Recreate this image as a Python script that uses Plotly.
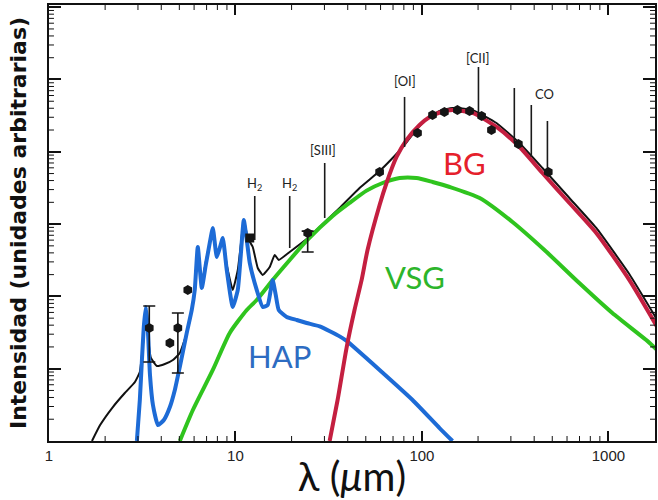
import math
import plotly.graph_objects as go

# ---------------- data ----------------
# wavelengths in micrometres, intensities in arbitrary units

hap_lambda = [2.96, 3.07, 3.15, 3.23, 3.31, 3.39, 3.48, 3.61, 3.84, 4.13, 4.45, 4.73,
              5.03, 5.48, 5.83, 6.05, 6.28, 6.60, 6.93, 7.28, 7.56, 7.94, 8.24, 8.55,
              8.98, 9.67, 10.29, 10.68, 11.08, 11.50, 11.93, 13.00, 14.01, 14.89, 15.46,
              15.84, 16.44, 17.06, 18.83, 21.30, 24.09, 28.29, 36.20, 39.46, 59.29,
              89.06, 124.3, 145.9]
hap_I = [1.0, 3.69, 13.2, 40.2, 71.3, 34.3, 8.18, 3.15, 1.66, 1.95, 2.95, 5.08,
         10.6, 31.2, 64.9, 123, 482, 131, 272, 548, 883, 351, 467, 642,
         232, 71.3, 123, 374, 1140, 603, 290, 123, 71.3, 76.0, 123,
         169, 105, 64.9, 51.9, 47.2, 42.9, 38.5, 28.0, 24.2, 9.6,
         3.69, 1.51, 1.0]

vsg_lambda = [5.03, 5.91, 7.56, 9.32, 11.50, 13.00, 15.84, 19.54, 24.09, 33.2, 40.9,
              50.5, 61.5, 75.9, 93.5, 114, 141, 204, 306, 454, 698, 1050, 1596, 1828]
vsg_I = [1.0, 2.68, 9.6, 31.2, 64.9, 89.2, 169, 319, 590, 1294, 1959,
         2900, 3700, 4343, 4343, 3822, 3260, 2296, 1069, 438, 153, 58.9, 24.9, 18.1]

bg_lambda = [32.0, 35.3, 39.5, 43.5, 47.5, 51.1, 59.3, 64.6, 73.1, 82.7, 97.1, 110,
             127, 146, 187, 251, 334, 443, 618, 861, 1294, 1828]
bg_I = [1.0, 3.69, 19.95, 64.9, 169, 438, 1837, 3700, 8475, 14560, 23490, 30300,
        35500, 37850, 34400, 22030, 11650, 5090, 1959, 753, 169, 37.7]

total_lambda = [1.70, 1.88, 2.20, 2.55, 2.89, 3.07, 3.19, 3.31, 3.39, 3.52, 3.79, 4.18,
                4.62, 5.03, 5.48, 5.83, 6.05, 6.28, 6.60, 6.93, 7.28, 7.56, 7.94, 8.24,
                8.55, 8.98, 9.67, 10.29, 10.68, 11.08, 11.64, 12.38, 13.17, 14.01, 15.27,
                16.24, 17.06, 19.54, 24.09, 29.36, 36.20, 46.3, 59.29, 71.3, 80.7, 91.3,
                103.3, 124.3, 145.9, 186.6, 251, 333, 443, 618, 861, 1294, 1828]
total_I = [1.0, 1.66, 2.95, 4.61, 6.55, 9.0, 21.3, 71.3, 29.2, 14.1, 10.9, 11.6,
           13.2, 16.5, 31.2, 64.9, 123, 482, 144, 299, 548, 883, 374, 482,
           642, 272, 123, 232, 514, 1140, 642, 482, 247, 198, 255,
           374, 319, 411, 620, 1000, 1670, 3157, 5420, 8750, 12420, 18790,
           26670, 36650, 40360, 37850, 25010, 13240, 5970, 2296, 883, 204, 47.2]

obs_lambda = [4.45, 5.55, 59.3, 94.7, 114, 132, 155, 180, 209, 236, 329, 476]
obs_I = [22.7, 123, 5255, 18200, 32280, 35500, 37850, 36650, 31260, 20030, 12820, 5255]
square_lambda = [11.93]
square_I = [642]

err_lambda = [3.45, 4.91, 24.4]
err_I = [36.6, 36.6, 753]
err_hi = [73.6, 58.9, 800]
err_lo = [12.4, 8.72, 411]

line_lambda = [12.69, 19.54, 30.1, 80.7, 201, 313, 386, 471]
line_top = [2448, 2448, 7000, 57300, 148900, 76300, 44400, 26670]
line_bottom = [603, 467, 1214, 11650, 34400, 13240, 8475, 5255]
label_lambda = [12.6, 19.4, 29.4, 80.7, 199, 454]
label_I = [3590, 3590, 10590, 95300, 198300, 63000]
label_text = ["H<sub>2</sub>", "H<sub>2</sub>", "[SIII]", "[OI]", "[CII]", "CO"]

comp_names = ["HAP", "VSG", "BG"]
comp_lambda = [17.3, 91.3, 169]
comp_I = [15.0, 185, 7000]

x_major = [1, 10, 100, 1000]
x_major_text = ["1", "10", "100", "1000"]
x_minor = [m * d for d in (1, 10, 100, 1000) for m in range(2, 10)]
y_major = [1, 10, 100, 1e3, 1e4, 1e5, 1e6]
y_minor = [m * d for d in (1, 10, 100, 1e3, 1e4, 1e5) for m in range(2, 10)]

# ---------------- styles ----------------
BLUE = "#1d6bd6"
GREEN = "#2fc41e"
RED = "#c41f40"
TXT_COLORS = ["#2d6cc2", "#2db52b", "#e5202b"]
INK = "#111111"

XR = [0, 3.25]
YR = [0, 6.03]
W, H = 658, 500
M = dict(l=49, r=1, t=5, b=59)
PLOT_W = W - M["l"] - M["r"]
PLOT_H = H - M["t"] - M["b"]
MINOR_LEN = 5

fig = go.Figure()

fig.add_trace(go.Scatter(x=total_lambda, y=total_I, mode="lines",
                         line=dict(color=INK, width=2, shape="spline", smoothing=0.4),
                         hoverinfo="skip"))
fig.add_trace(go.Scatter(x=vsg_lambda, y=vsg_I, mode="lines",
                         line=dict(color=GREEN, width=4, shape="spline", smoothing=0.6),
                         hoverinfo="skip"))
fig.add_trace(go.Scatter(x=hap_lambda, y=hap_I, mode="lines",
                         line=dict(color=BLUE, width=4, shape="spline", smoothing=0.45),
                         hoverinfo="skip"))
fig.add_trace(go.Scatter(x=bg_lambda, y=bg_I, mode="lines",
                         line=dict(color=RED, width=4, shape="spline", smoothing=0.6),
                         hoverinfo="skip"))

# spectral line markers
lx, ly = [], []
for lam, top, bot in zip(line_lambda, line_top, line_bottom):
    lx += [lam, lam, None]
    ly += [bot, top, None]
fig.add_trace(go.Scatter(x=lx, y=ly, mode="lines",
                         line=dict(color="#1a1a1a", width=1.6), hoverinfo="skip"))

# observations
fig.add_trace(go.Scatter(x=obs_lambda, y=obs_I, mode="markers",
                         marker=dict(symbol="hexagon", size=10, color="#151515"),
                         hoverinfo="skip"))
fig.add_trace(go.Scatter(x=square_lambda, y=square_I, mode="markers",
                         marker=dict(symbol="square", size=9, color="#151515"),
                         hoverinfo="skip"))
fig.add_trace(go.Scatter(
    x=err_lambda, y=err_I, mode="markers",
    marker=dict(symbol="hexagon", size=10, color="#151515"),
    error_y=dict(type="data", symmetric=False,
                 array=[h - v for h, v in zip(err_hi, err_I)],
                 arrayminus=[v - l for l, v in zip(err_lo, err_I)],
                 color="#151515", thickness=1.6, width=6),
    hoverinfo="skip"))

annotations = []
for t, lam, inten in zip(label_text, label_lambda, label_I):
    annotations.append(dict(x=math.log10(lam), y=math.log10(inten), xref="x", yref="y",
                            text=t, showarrow=False,
                            font=dict(family="Lato, Open Sans, sans-serif", size=13,
                                      color="#222222")))
for t, lam, inten, c in zip(comp_names, comp_lambda, comp_I, TXT_COLORS):
    annotations.append(dict(x=math.log10(lam), y=math.log10(inten), xref="x", yref="y",
                            text=t, showarrow=False,
                            font=dict(family="Lato, Open Sans, sans-serif", size=31, color=c)))

# minor log ticks (inside, on all four sides), placed at the minor tick values
shapes = []
fx = MINOR_LEN / PLOT_H
fy = MINOR_LEN / PLOT_W
tick_line = dict(color=INK, width=1)
for v in x_minor:
    if 10 ** XR[0] < v < 10 ** XR[1]:
        shapes.append(dict(type="line", xref="x", yref="paper", x0=v, x1=v,
                           y0=0, y1=fx, line=tick_line, layer="above"))
        shapes.append(dict(type="line", xref="x", yref="paper", x0=v, x1=v,
                           y0=1, y1=1 - fx, line=tick_line, layer="above"))
for v in y_minor:
    if 10 ** YR[0] < v < 10 ** YR[1]:
        shapes.append(dict(type="line", xref="paper", yref="y", x0=0, x1=fy,
                           y0=v, y1=v, line=tick_line, layer="above"))
        shapes.append(dict(type="line", xref="paper", yref="y", x0=1, x1=1 - fy,
                           y0=v, y1=v, line=tick_line, layer="above"))

fig.update_layout(
    width=W, height=H,
    margin=M,
    paper_bgcolor="white", plot_bgcolor="white",
    showlegend=False,
    annotations=annotations,
    shapes=shapes,
    xaxis=dict(type="log", range=XR, tickmode="array", tickvals=x_major,
               ticktext=x_major_text, showline=True, linecolor=INK, linewidth=2,
               mirror="allticks", ticks="inside", ticklen=10, tickwidth=1.5, tickcolor=INK,
               showgrid=False, zeroline=False,
               tickfont=dict(family="Liberation Sans, Arial, sans-serif", size=15,
                             color="#222222"),
               title=dict(text="λ (<i>μ</i>m)", standoff=0,
                          font=dict(family="Lato, sans-serif", size=40, color=INK))),
    yaxis=dict(type="log", range=YR, tickmode="array", tickvals=y_major,
               showticklabels=False, showline=True, linecolor=INK, linewidth=2,
               mirror="allticks", ticks="inside", ticklen=12, tickwidth=1.5, tickcolor=INK,
               showgrid=False, zeroline=False,
               title=dict(text="<b>Intensidad (unidades arbitrarias)</b>", standoff=14,
                          font=dict(family="DejaVu Sans, sans-serif", size=22,
                                    color=INK))),
)

fig.write_html("out.html")
